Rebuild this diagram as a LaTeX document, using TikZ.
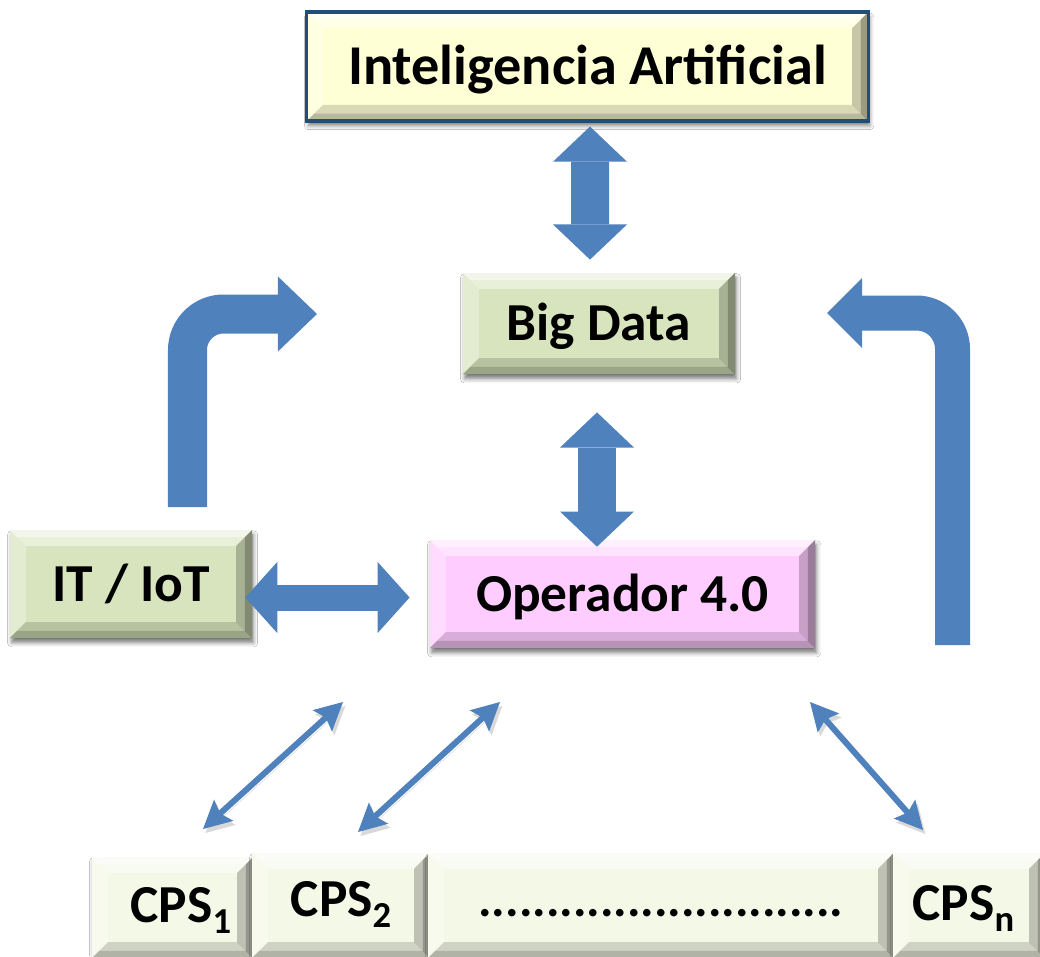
\documentclass[tikz,border=0pt]{standalone}
\usepackage{fontspec}
\setmainfont{Carlito}
\usetikzlibrary{arrows.meta,calc,shadows.blur}

\definecolor{arrowblue}{HTML}{4F81BD}
\definecolor{iacream}{HTML}{FFFFD6}
\definecolor{iaframe}{HTML}{1F4E79}
\definecolor{datagreen}{HTML}{D7E4BD}
\definecolor{oppink}{HTML}{FFCCFF}
\definecolor{cpswhite}{HTML}{F4F8E6}

% width of the bevelled rim, and its outer half
\newcommand{\rimw}{0.4cm}
\newcommand{\rimh}{0.18cm}
\newcommand{\cpsub}[1]{\raisebox{-0.28cm}{\fontsize{26}{26}\selectfont #1}}
% one side of the rim: corner, corner, inset
\newcommand{\rimside}[5]{%
  \fill[#1] (#2) -- (#3) -- ([shift={#5}]#3) -- ([shift={#4}]#2) -- cycle;}
% light top/left, dark bottom/right
\newcommand{\bevelrim}{%
  \path (path picture bounding box.north west) coordinate (rnw)
        (path picture bounding box.north east) coordinate (rne)
        (path picture bounding box.south west) coordinate (rsw)
        (path picture bounding box.south east) coordinate (rse);
  \rimside{white,opacity=.45}{rnw}{rne}{(\rimw,-\rimw)}{(-\rimw,-\rimw)}
  \rimside{white,opacity=.45}{rnw}{rne}{(\rimh,-\rimh)}{(-\rimh,-\rimh)}
  \rimside{white,opacity=.3}{rnw}{rsw}{(\rimw,-\rimw)}{(\rimw,\rimw)}
  \rimside{black,opacity=.15}{rsw}{rse}{(\rimw,\rimw)}{(-\rimw,\rimw)}
  \rimside{black,opacity=.15}{rsw}{rse}{(\rimh,\rimh)}{(-\rimh,\rimh)}
  \rimside{black,opacity=.22}{rse}{rne}{(-\rimw,\rimw)}{(-\rimw,-\rimw)}
  \rimside{black,opacity=.22}{rse}{rne}{(-\rimh,\rimh)}{(-\rimh,-\rimh)}
}

\tikzset{
  bevelbox/.style={rectangle, inner sep=0pt, text height=0.86cm, text depth=0pt,
    font=\bfseries\fontsize{38}{44}\selectfont,
    blur shadow={shadow xshift=0.04cm, shadow yshift=-0.12cm, shadow blur radius=0.1cm, shadow opacity=50},
    path picture={\bevelrim}},
  blockarrow/.style={draw=arrowblue, line width=#1},
  thinarrow/.style={draw=arrowblue, line width=0.15cm, ThinTip-ThinTip,
    preaction={draw=black, opacity=.15, transform canvas={shift={(0.06cm,-0.1cm)}}}},
  ThinTip/.tip={Stealth[length=0.7cm,width=0.72cm,inset=0.12cm,line width=0pt]},
  TipV/.tip={Triangle[length=0.88cm,width=1.85cm,line width=0pt]},
  TipH/.tip={Triangle[length=0.8cm,width=1.78cm,line width=0pt]},
}

\begin{document}
\begin{tikzpicture}[x=0.025cm,y=-0.025cm]
  \path[use as bounding box, fill=white] (0,0) rectangle (1040,956);

  % main boxes
  \node[bevelbox, fill=iacream, draw=iaframe, line width=0.08cm, minimum width=14.03cm, minimum height=2.72cm,
        font=\bfseries\fontsize{40}{46}\selectfont, text height=0.9cm] (ia) at (587.5,66.5) {Inteligencia Artificial};
  \node[bevelbox, fill=datagreen, minimum width=6.8cm, minimum height=2.53cm] (bd) at (599,323.5) {Big Data};
  \node[bevelbox, fill=datagreen, minimum width=6.05cm, minimum height=2.7cm] (it) at (131,584) {IT / IoT};
  \node[bevelbox, fill=oppink, minimum width=9.63cm, minimum height=2.7cm] (op) at (622.5,594) {Operador 4.0};

  % row of cyber-physical systems
  \node[bevelbox, fill=cpswhite, minimum width=4.03cm, minimum height=2.53cm, text depth=0.1cm] (cps1) at (172.5,907.5) {\hspace*{0.42cm}CPS\cpsub{1}};
  \node[bevelbox, fill=cpswhite, minimum width=4.45cm, minimum height=2.63cm, text depth=0.3cm] (cps2) at (341,905.5) {CPS\cpsub{2}};
  \node[bevelbox, fill=cpswhite, minimum width=11.65cm, minimum height=2.63cm, text depth=0.3cm,
        font=\bfseries\fontsize{36}{40}\selectfont] (dots) at (661,905.5) {...........................};
  \node[bevelbox, fill=cpswhite, minimum width=3.8cm, minimum height=2.63cm, text depth=0.1cm] (cpsn) at (969,905.5) {CPS\cpsub{n}\hspace*{0.28cm}};

  % free ends of the connectors
  \coordinate (itup) at (187.5,507);
  \coordinate (bdleft) at (317,314);
  \coordinate (opright) at (952.5,645);
  \coordinate (bdright) at (827,313);
  \coordinate (cps1top) at (203,829);
  \coordinate (cps2top) at (358,832);
  \coordinate (cpsntop) at (923,830);
  \coordinate (opsw) at (343,702);
  \coordinate (opbottom) at (500,702);
  \coordinate (opse) at (810,702);

  % block arrows
  \draw[blockarrow=0.95cm, TipV-TipV] ($(ia.south)+(2.5,4)$) -- ($(bd.north)+(-9,-13)$);
  \draw[blockarrow=0.93cm, TipV-TipV] ($(bd.south)+(-2,38)$) -- ($(op.north)+(-25.5,7)$);
  \draw[blockarrow=0.65cm, TipH-TipH] ($(it.east)+(-7,13.5)$) -- ($(op.west)+(-20,3.5)$);
  \draw[blockarrow=0.975cm, -{Triangle[length=0.98cm,width=1.88cm,line width=0pt]}, rounded corners=0.9cm]
    (itup) |- (bdleft);
  \draw[blockarrow=0.875cm, -{Triangle[length=0.88cm,width=1.75cm,line width=0pt]}, rounded corners=0.9cm]
    (opright) |- (bdright);

  % thin links to the CPS row
  \draw[thinarrow] (cps1top) -- (opsw);
  \draw[thinarrow] (cps2top) -- (opbottom);
  \draw[thinarrow] (opse) -- (cpsntop);
\end{tikzpicture}
\end{document}
